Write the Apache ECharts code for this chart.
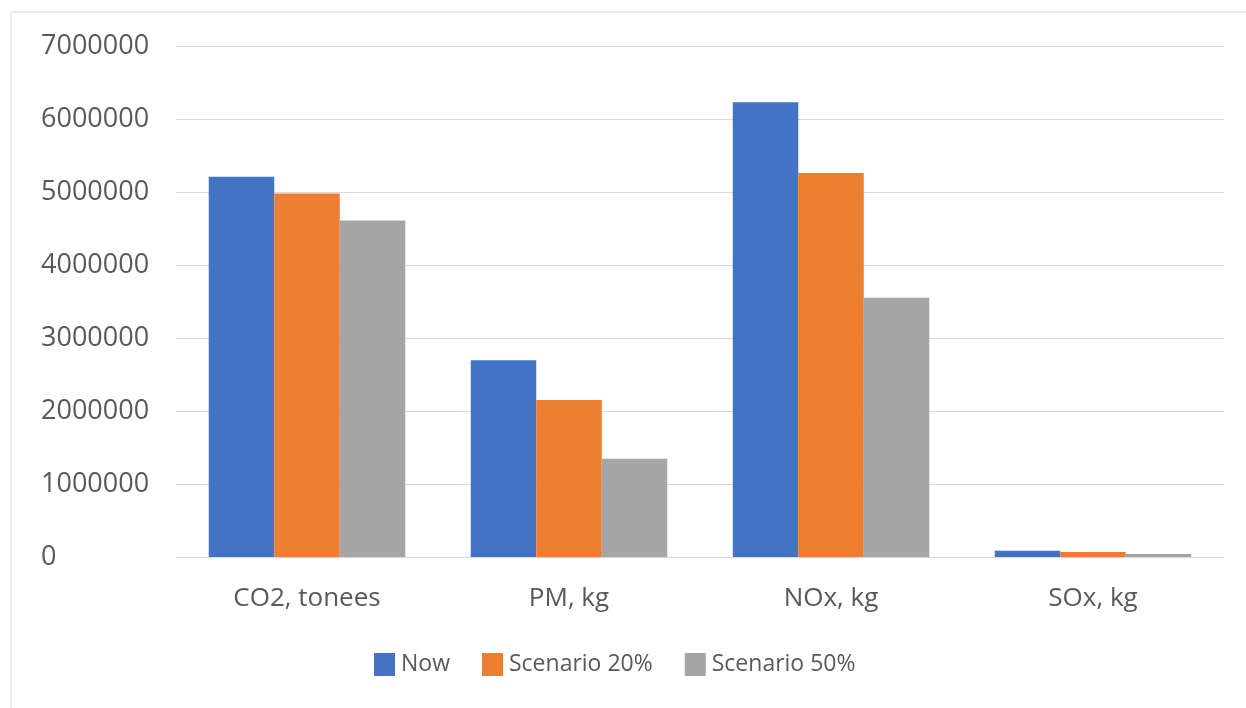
<!DOCTYPE html>
<html>
<head>
<meta charset="utf-8">
<style>
  html, body { margin: 0; padding: 0; background: #ffffff; }
  #chart { width: 1246px; height: 708px; }
</style>
<script src="https://cdn.jsdelivr.net/npm/echarts@6/dist/echarts.min.js"></script>
</head>
<body>
<div id="chart"></div>
<script>
// Emissions by pollutant, current situation vs. two scenarios
const categories = ['CO2, tonees', 'PM, kg', 'NOx, kg', 'SOx, kg'];
const seriesNames = ['Now', 'Scenario 20%', 'Scenario 50%'];
const nowValues = [5210000, 2695000, 6230000, 85000];
const scenario20Values = [4980000, 2150000, 5260000, 70000];
const scenario50Values = [4610000, 1347000, 3550000, 40000];
const yTicks = [0, 1000000, 2000000, 3000000, 4000000, 5000000, 6000000, 7000000];

const colors = ['#4472C4', '#ED7D31', '#A5A5A5'];
const textColor = '#595959';
const fontFamily = '"Open Sans", "Noto Sans", sans-serif';

const chart = echarts.init(document.getElementById('chart'), null, { renderer: 'canvas' });

const valueSets = [nowValues, scenario20Values, scenario50Values];

chart.setOption({
  animation: false,
  color: colors,
  graphic: [{
    type: 'rect',
    shape: { x: 11, y: 12, width: 1260, height: 720 },
    style: { fill: 'none', stroke: '#d9d9d9', lineWidth: 1 },
    silent: true
  }],
  grid: { left: 176, right: 22, top: 46, bottom: 151, containLabel: false },
  legend: {
    left: 374,
    top: 653,
    padding: 0,
    itemWidth: 21,
    itemHeight: 23,
    itemGap: 32,
    icon: 'rect',
    textStyle: { color: textColor, fontSize: 23, fontFamily: fontFamily, padding: [0, 0, 0, 1] },
    data: seriesNames
  },
  xAxis: {
    type: 'category',
    data: categories,
    axisLine: { show: true, lineStyle: { color: '#d9d9d9', width: 1 } },
    axisTick: { show: false },
    axisLabel: { color: textColor, fontSize: 26, fontFamily: fontFamily, margin: 29 }
  },
  yAxis: {
    type: 'value',
    min: yTicks[0],
    max: yTicks[yTicks.length - 1],
    interval: yTicks[1] - yTicks[0],
    axisLine: { show: false },
    axisTick: { show: false },
    splitLine: { lineStyle: { color: '#d9d9d9', width: 1 } },
    axisLabel: {
      color: textColor, fontSize: 27, fontFamily: fontFamily,
      align: 'left', margin: 135, padding: [4, 0, 0, 0],
      formatter: v => String(v)
    }
  },
  series: seriesNames.map((name, i) => ({
    name: name,
    type: 'bar',
    data: valueSets[i],
    barGap: '0%',
    barCategoryGap: '25%',
    itemStyle: { color: colors[i] }
  }))
});
</script>
</body>
</html>
